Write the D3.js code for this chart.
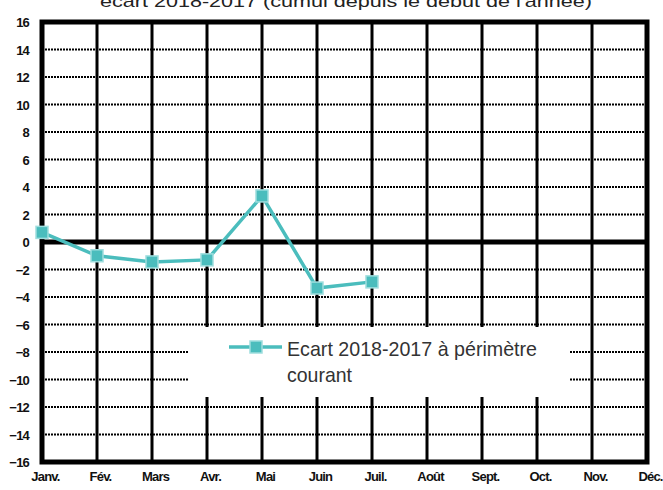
<!DOCTYPE html>
<html><head><meta charset="utf-8">
<script src="https://cdn.jsdelivr.net/npm/d3@7"></script>
<style>body{margin:0;background:#fff}</style>
</head><body>
<svg id="c" width="663" height="490"></svg>
<script>
const months = ["Janv.","Févr.","Mars","Avr.","Mai","Juin","Juil.","Août","Sept.","Oct.","Nov.","Déc."];
const monthLabels = ["Janv.","Fév.","Mars","Avr.","Mai","Juin","Juil.","Août","Sept.","Oct.","Nov.","Déc."];
const ecart = [0.7, -1.0, -1.45, -1.3, 3.35, -3.35, -2.9];
const yTicks = [16,14,12,10,8,6,4,2,0,-2,-4,-6,-8,-10,-12,-14,-16];
const seriesName = ["Ecart 2018-2017 à périmètre", "courant"];
const title = "écart 2018-2017 (cumul depuis le début de l'année)";

const svg = d3.select("#c");
const x = d3.scalePoint().domain(months).range([42, 647]);
const y = d3.scaleLinear().domain([-16, 16]).range([462, 22]);
const teal = "#4bbdbd";

svg.append("text").attr("x", 346).attr("y", 7).attr("text-anchor", "middle")
  .attr("font-family", "Liberation Sans, Arial, sans-serif").attr("font-size", 17)
  .attr("fill", "#222").attr("textLength", 492).attr("lengthAdjust", "spacingAndGlyphs")
  .text(title);

const g = svg.append("g");
g.selectAll("line.h").data(yTicks.filter(d => d !== 0 && Math.abs(d) !== 16)).enter().append("line")
  .attr("x1", x(months[0])).attr("x2", x(months[11]))
  .attr("y1", d => y(d)).attr("y2", d => y(d))
  .attr("stroke", "#000").attr("stroke-width", 2).attr("stroke-dasharray", "2,1");
g.selectAll("line.v").data(months.slice(1, 11)).enter().append("line")
  .attr("x1", d => x(d)).attr("x2", d => x(d))
  .attr("y1", y(16)).attr("y2", y(-16))
  .attr("stroke", "#000").attr("stroke-width", 3);
g.append("line").attr("x1", x(months[0])).attr("x2", x(months[11]))
  .attr("y1", y(0)).attr("y2", y(0)).attr("stroke", "#000").attr("stroke-width", 5);
g.append("rect").attr("x", x(months[0])).attr("y", y(16))
  .attr("width", x(months[11]) - x(months[0])).attr("height", y(-16) - y(16))
  .attr("fill", "none").attr("stroke", "#000").attr("stroke-width", 5);

const yAxis = d3.axisLeft(y).tickValues(yTicks).tickSize(0).tickPadding(0).tickFormat(d3.format("d"));
const ya = svg.append("g").attr("transform", "translate(29,0)").call(yAxis);
ya.select(".domain").remove();
ya.selectAll("text").attr("font-family", "Liberation Sans, Arial, sans-serif")
  .attr("font-size", 13).attr("font-weight", "bold").attr("fill", "#111")
  .attr("letter-spacing", "-0.8px").attr("dy", "0.35em");

const xAxis = d3.axisBottom(x).tickSize(0).tickPadding(0).tickFormat((d, i) => monthLabels[i]);
const xa = svg.append("g").attr("transform", "translate(3,472)").call(xAxis);
xa.select(".domain").remove();
xa.selectAll("text").attr("font-family", "Liberation Sans, Arial, sans-serif")
  .attr("font-size", 13).attr("font-weight", "bold").attr("fill", "#111")
  .attr("letter-spacing", "-0.8px");

const data = ecart.map((v, i) => ({m: months[i], v}));
svg.append("path").datum(data)
  .attr("d", d3.line().x(d => x(d.m)).y(d => y(d.v)))
  .attr("fill", "none").attr("stroke", teal).attr("stroke-width", 3.5);
svg.selectAll("rect.pt").data(data).enter().append("rect")
  .attr("x", d => x(d.m) - 6).attr("y", d => y(d.v) - 6)
  .attr("width", 12).attr("height", 12)
  .attr("fill", teal).attr("stroke", "#9fdede").attr("stroke-width", 1.5);

const lg = svg.append("g");
lg.append("rect").attr("x", 189).attr("y", 327).attr("width", 381).attr("height", 70).attr("fill", "#fff");
lg.append("line").attr("x1", 229).attr("x2", 282).attr("y1", 347).attr("y2", 347)
  .attr("stroke", teal).attr("stroke-width", 3.5);
lg.append("rect").attr("x", 250).attr("y", 341).attr("width", 12).attr("height", 12)
  .attr("fill", teal).attr("stroke", "#9fdede").attr("stroke-width", 1.5);
const legW = [250, 65];
lg.selectAll("text").data(seriesName).enter().append("text")
  .attr("x", 287).attr("y", (d, i) => 356 + i * 26)
  .attr("font-family", "Liberation Sans, Arial, sans-serif").attr("font-size", 21)
  .attr("fill", "#333").attr("textLength", (d, i) => legW[i]).attr("lengthAdjust", "spacingAndGlyphs")
  .text(d => d);
</script>
</body></html>
